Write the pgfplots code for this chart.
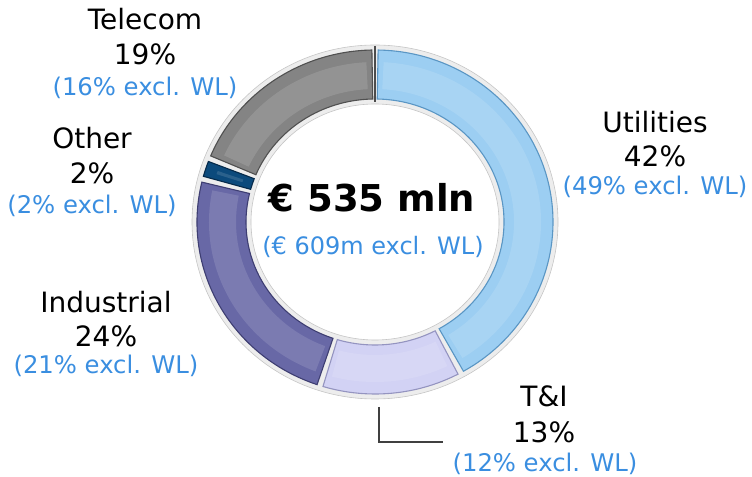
\documentclass[border=0pt]{standalone}
\usepackage{pgfplots}
\usepackage{pgfplotstable}
\pgfplotsset{compat=1.18}
\usepackage{fontspec}
\setmainfont{DejaVu Sans}
\definecolor{lblue}{HTML}{3A8EE0}
\definecolor{cUtil}{HTML}{9CCEF2}
\definecolor{eUtil}{HTML}{5A96C4}
\definecolor{cTI}{HTML}{D2D2F4}
\definecolor{eTI}{HTML}{9494C0}
\definecolor{cInd}{HTML}{6868A6}
\definecolor{eInd}{HTML}{3E3E72}
\definecolor{cOth}{HTML}{0C4A7C}
\definecolor{eOth}{HTML}{062A4A}
\definecolor{cTel}{HTML}{848484}
\definecolor{eTel}{HTML}{505050}

\pgfplotstableread{
name value
Utilities 42
TI 13
Industrial 24
Other 2
Telecom 19
}\sectors

% centre and radii (pixel units, y measured upward)
\def\cx{375}\def\cy{255}
\def\orx{178}\def\ory{172}
\def\irx{129}\def\iry{123}

% sector: #1 start angle, #2 end angle (clockwise, #1>#2), #3 fill, #4 edge
\newcommand\seg[4]{%
  \fill[#3,draw=#4,line width=1.1bp]
    (axis cs:{\cx+\orx*cos(#1)},{\cy+\ory*sin(#1)})
    arc[start angle=#1,end angle=#2,x radius=\orx bp,y radius=\ory bp]
    -- (axis cs:{\cx+\irx*cos(#2)},{\cy+\iry*sin(#2)})
    arc[start angle=#2,end angle=#1,x radius=\irx bp,y radius=\iry bp]
    -- cycle;
  \fill[white,opacity=0.13]
    (axis cs:{\cx+(\orx-12)*cos(#1-2)},{\cy+(\ory-12)*sin(#1-2)})
    arc[start angle=#1-2,end angle=#2+2,x radius=\orx bp-12bp,y radius=\ory bp-12bp]
    -- (axis cs:{\cx+(\irx+10)*cos(#2+2)},{\cy+(\iry+10)*sin(#2+2)})
    arc[start angle=#2+2,end angle=#1-2,x radius=\irx bp+10bp,y radius=\iry bp+10bp]
    -- cycle;
}

\pgfplotstablegetelem{0}{value}\of\sectors \global\let\vA\pgfplotsretval
\pgfplotstablegetelem{1}{value}\of\sectors \global\let\vB\pgfplotsretval
\pgfplotstablegetelem{2}{value}\of\sectors \global\let\vC\pgfplotsretval
\pgfplotstablegetelem{3}{value}\of\sectors \global\let\vD\pgfplotsretval
\pgfplotstablegetelem{4}{value}\of\sectors \global\let\vE\pgfplotsretval
\pgfmathsetmacro\aA{90}
\pgfmathsetmacro\aB{\aA-3.6*\vA}
\pgfmathsetmacro\aC{\aB-3.6*\vB}
\pgfmathsetmacro\aD{\aC-3.6*\vC}
\pgfmathsetmacro\aE{\aD-3.6*\vD}
\pgfmathsetmacro\aF{\aE-3.6*\vE}
\def\g{1.0}

\begin{document}
\begin{tikzpicture}
\begin{axis}[
  scale only axis, width=752bp, height=477bp,
  xmin=0, xmax=752, ymin=0, ymax=477,
  hide axis, clip=false,
]
% frame ring
\fill[gray!14,draw=gray!45,line width=0.6bp]
  (axis cs:{\cx+(\orx+5)},{\cy}) arc[start angle=0,end angle=360,x radius=\orx bp+5bp,y radius=\ory bp+5bp]
  -- cycle
  (axis cs:{\cx+(\irx-5)},{\cy}) arc[start angle=0,end angle=-360,x radius=\irx bp-5bp,y radius=\iry bp-5bp]
  -- cycle;
\seg{\aA-\g}{\aB+\g}{cUtil}{eUtil}
\seg{\aB-\g}{\aC+\g}{cTI}{eTI}
\seg{\aC-\g}{\aD+\g}{cInd}{eInd}
\seg{\aD-\g}{\aE+\g}{cOth}{eOth}
\seg{\aE-\g}{\aF+\g}{cTel}{eTel}
\draw[gray!60!black,line width=1.2bp] (axis cs:375,{477-46}) -- (axis cs:375,{477-102});

% leader line for T&I
\draw[black!75,line width=1.3bp] (axis cs:379,{477-407}) -- (axis cs:379,{477-442}) -- (axis cs:443,{477-442});

% centre text
\node[anchor=base,font=\fontsize{37bp}{40bp}\selectfont\bfseries] at (axis cs:372,{477-212}) {€ 535 mln};
\node[anchor=base,text=lblue,font=\fontsize{24bp}{28bp}\selectfont] at (axis cs:373,{477-255}) {(€ 609m excl. WL)};

% labels
\tikzset{lab/.style={anchor=base,font=\fontsize{28bp}{32bp}\selectfont,inner sep=0pt},
         blab/.style={anchor=base,font=\fontsize{24.3bp}{28bp}\selectfont,text=lblue,inner sep=0pt}}
\node[lab] at (axis cs:145,{477-30}) {Telecom};
\node[lab] at (axis cs:145,{477-65}) {19\%};
\node[blab] at (axis cs:145,{477-96}) {(16\% excl. WL)};

\node[lab] at (axis cs:92,{477-149}) {Other};
\node[lab] at (axis cs:92,{477-184}) {2\%};
\node[blab] at (axis cs:92,{477-214}) {(2\% excl. WL)};

\node[lab] at (axis cs:106,{477-313}) {Industrial};
\node[lab] at (axis cs:106,{477-347}) {24\%};
\node[blab] at (axis cs:106,{477-374}) {(21\% excl. WL)};

\node[lab] at (axis cs:655,{477-133}) {Utilities};
\node[lab] at (axis cs:655,{477-167}) {42\%};
\node[blab] at (axis cs:655,{477-195}) {(49\% excl. WL)};

\node[lab] at (axis cs:544,{477-407}) {T\&I};
\node[lab] at (axis cs:544,{477-443}) {13\%};
\node[blab] at (axis cs:545,{477-471}) {(12\% excl. WL)};
\path (axis cs:0,0) (axis cs:752,477);
\end{axis}
\end{tikzpicture}
\end{document}
